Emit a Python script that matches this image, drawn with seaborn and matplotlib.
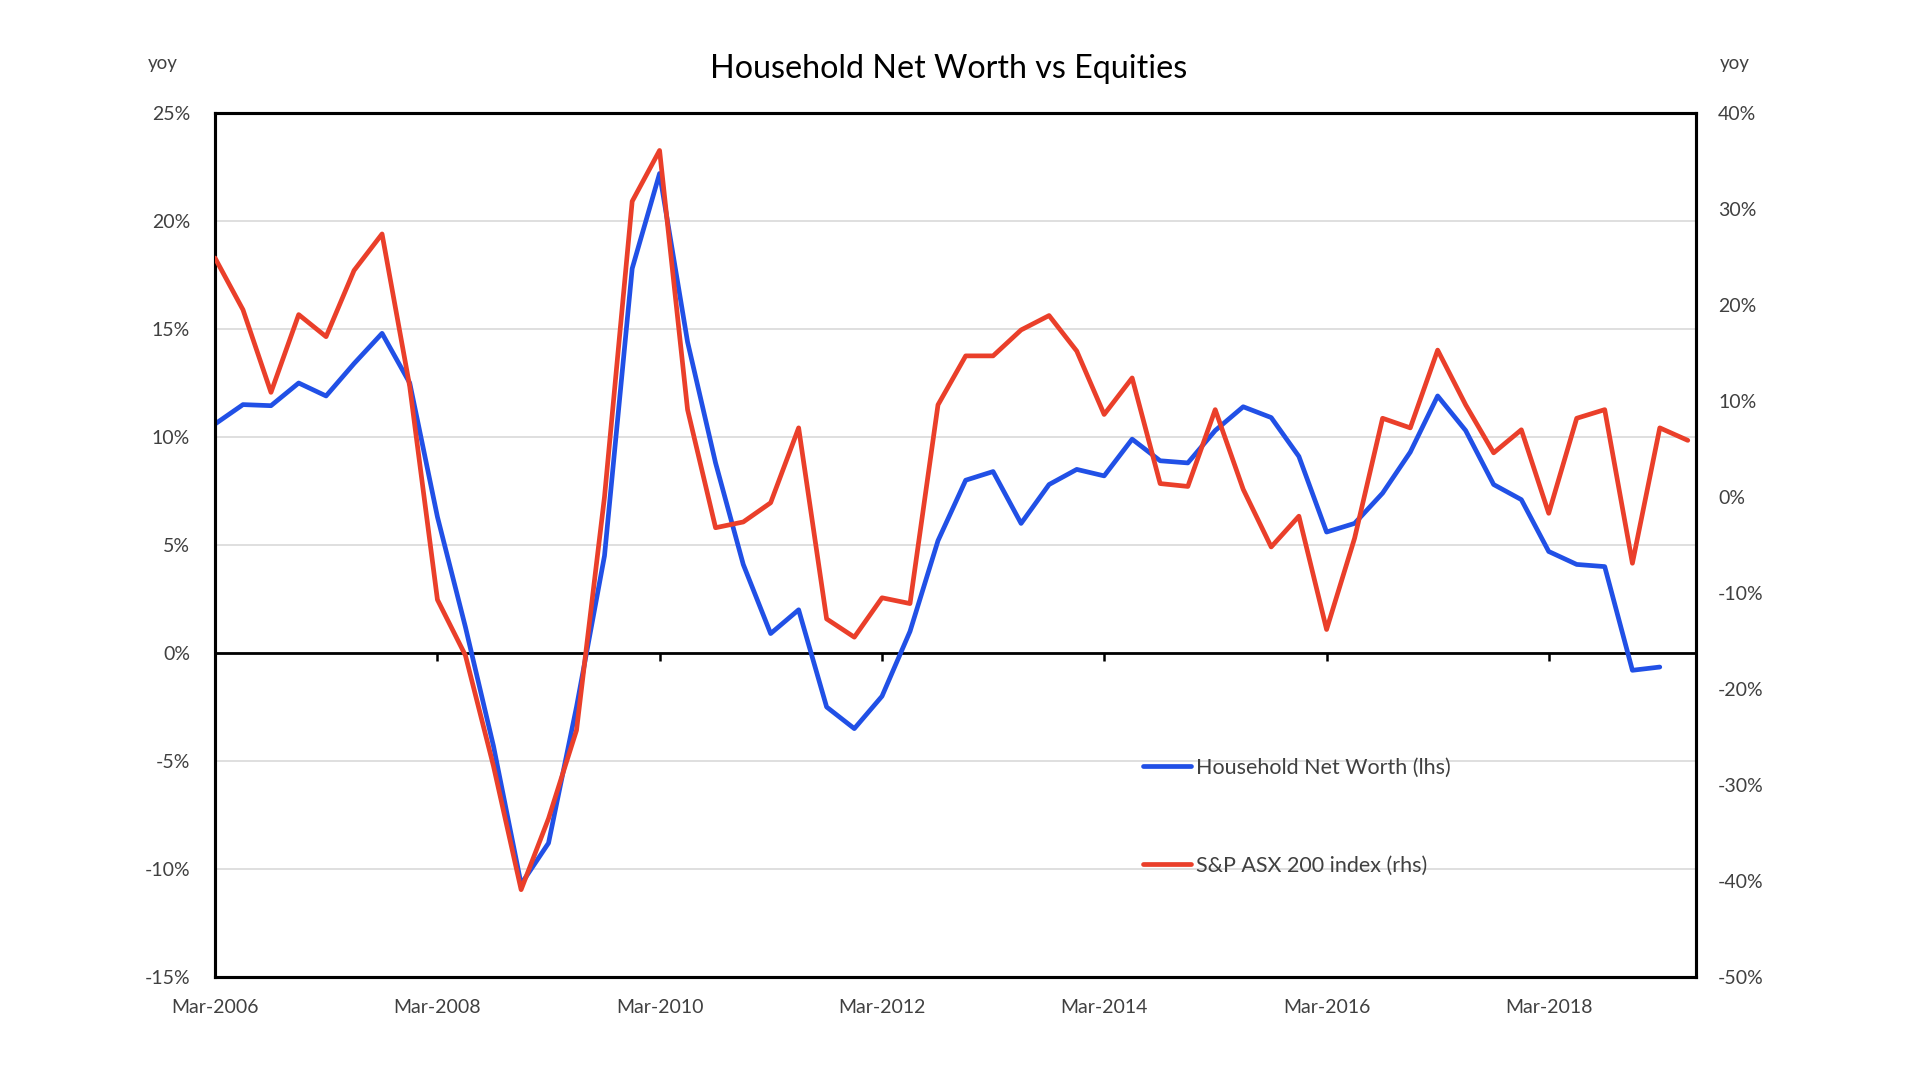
import numpy as np
import pandas as pd
import matplotlib
matplotlib.use("Agg")
import matplotlib.pyplot as plt
import seaborn as sns
from matplotlib.lines import Line2D

# ---------------- data ----------------
quarters = pd.date_range("2006-03-01", periods=54, freq="QS-MAR")

net_worth_yoy = [10.6, 11.5, 11.45, 12.5, 11.9, 13.4, 14.8, 12.5, 6.3, 1.2,
                 -4.3, -10.7, -8.8, -2.5, 4.5, 17.8, 22.2, 14.4, 8.8, 4.1,
                 0.9, 2.0, -2.5, -3.5, -2.0, 1.0, 5.2, 8.0, 8.4, 6.0,
                 7.8, 8.5, 8.2, 9.9, 8.9, 8.8, 10.3, 11.4, 10.9, 9.1,
                 5.6, 6.0, 7.4, 9.3, 11.9, 10.3, 7.8, 7.1, 4.7, 4.1,
                 4.0, -0.8, -0.65]

asx200_yoy = [24.9, 19.5, 10.9, 19.0, 16.7, 23.6, 27.4, 11.5, -10.7, -16.5,
              -28.0, -40.9, -33.5, -24.3, 0.0, 30.8, 36.1, 9.1, -3.2, -2.6,
              -0.6, 7.2, -12.7, -14.6, -10.5, -11.1, 9.6, 14.7, 14.7, 17.4,
              18.9, 15.2, 8.6, 12.4, 1.4, 1.1, 9.1, 0.8, -5.2, -2.0,
              -13.8, -4.3, 8.2, 7.2, 15.3, 9.6, 4.6, 7.0, -1.7, 8.2,
              9.1, -6.9, 7.2, 5.9]

lhs_ticks = [-15, -10, -5, 0, 5, 10, 15, 20, 25]
rhs_ticks = [-50, -40, -30, -20, -10, 0, 10, 20, 30, 40]
x_tick_labels = ["Mar-2006", "Mar-2008", "Mar-2010", "Mar-2012",
                 "Mar-2014", "Mar-2016", "Mar-2018"]

title = "Household Net Worth vs Equities"
label_nw = "Household Net Worth (lhs)"
label_asx = "S&P ASX 200 index (rhs)"

# ---------------- style ----------------
sns.set_theme(style="white")
plt.rcParams["font.family"] = ["Lato", "DejaVu Sans"]
TXT = "#404040"
BLUE = "#2150E6"
RED = "#EA3F2A"

fig = plt.figure(figsize=(19.2, 10.9), dpi=100)
ax = fig.add_axes([215 / 1920, 1 - 977 / 1090, (1696 - 215) / 1920, (977 - 113) / 1090])
ax2 = ax.twinx()

df_nw = pd.DataFrame({"date": quarters[:len(net_worth_yoy)], "v": net_worth_yoy})
df_asx = pd.DataFrame({"date": quarters[:len(asx200_yoy)], "v": asx200_yoy})

sns.lineplot(data=df_nw, x="date", y="v", ax=ax, color=BLUE, lw=3.4, legend=False, zorder=3)
sns.lineplot(data=df_asx, x="date", y="v", ax=ax2, color=RED, lw=3.4, legend=False, zorder=3)

# axes limits
ax.set_xlim(quarters[0], quarters[-1] + pd.Timedelta(days=27))
ax.set_ylim(-15, 25)
ax2.set_ylim(-50, 40)

# gridlines & zero line
ax.set_yticks(lhs_ticks)
ax.set_yticklabels([f"{t}%" for t in lhs_ticks])
ax.grid(axis="y", color="#D9D9D9", lw=1.2)
ax.grid(axis="x", visible=False)
ax.axhline(0, color="black", lw=2.0, zorder=2)
ax2.set_yticks(rhs_ticks)
ax2.set_yticklabels([f"{t}%" for t in rhs_ticks])
ax2.grid(False)

# x ticks: labels at bottom, marks on zero line
tick_dates = [quarters[i] for i in range(0, 49, 8)]
ax.set_xticks(tick_dates)
ax.set_xticklabels(x_tick_labels)
ax.tick_params(axis="x", length=0, pad=16, labelsize=14, labelcolor=TXT)
ax.tick_params(axis="y", length=0, pad=18, labelsize=14, labelcolor=TXT)
ax2.tick_params(axis="y", length=0, pad=16, labelsize=14, labelcolor=TXT)
for lab in ax2.get_yticklabels():
    lab.set_horizontalalignment("left")

sec = ax.secondary_xaxis(15 / 40)
sec.set_xticks(tick_dates)
sec.set_xticklabels([])
sec.tick_params(axis="x", direction="out", length=6, width=1.8, color="black")
sec.spines["bottom"].set_visible(False)

ax.set_xlabel("")
ax.set_ylabel("")
ax2.set_ylabel("")

for a in (ax, ax2):
    for s in a.spines.values():
        s.set_visible(True)
        s.set_color("black")
        s.set_linewidth(2.2)

# text
fig.text(949 / 1920, 1 - 69 / 1090, title, ha="center", va="center", fontsize=23.2, color="black")
fig.text(163 / 1920, 1 - 63 / 1090, "yoy", ha="center", va="center", fontsize=13.5, color=TXT)
fig.text(1735 / 1920, 1 - 63 / 1090, "yoy", ha="center", va="center", fontsize=13.5, color=TXT)

# legend
handles = [Line2D([0], [0], color=BLUE, lw=3.4), Line2D([0], [0], color=RED, lw=3.4)]
ax2.legend(handles, [label_nw, label_asx], loc="upper left",
           bbox_to_anchor=(1143 / 1920, 1 - 758 / 1090), bbox_transform=fig.transFigure,
           frameon=False, fontsize=15.5, handlelength=2.25, handletextpad=0.2,
           labelspacing=3.6, borderpad=0, borderaxespad=0, labelcolor=TXT)

fig.savefig("out.png", dpi=100, facecolor="white")
